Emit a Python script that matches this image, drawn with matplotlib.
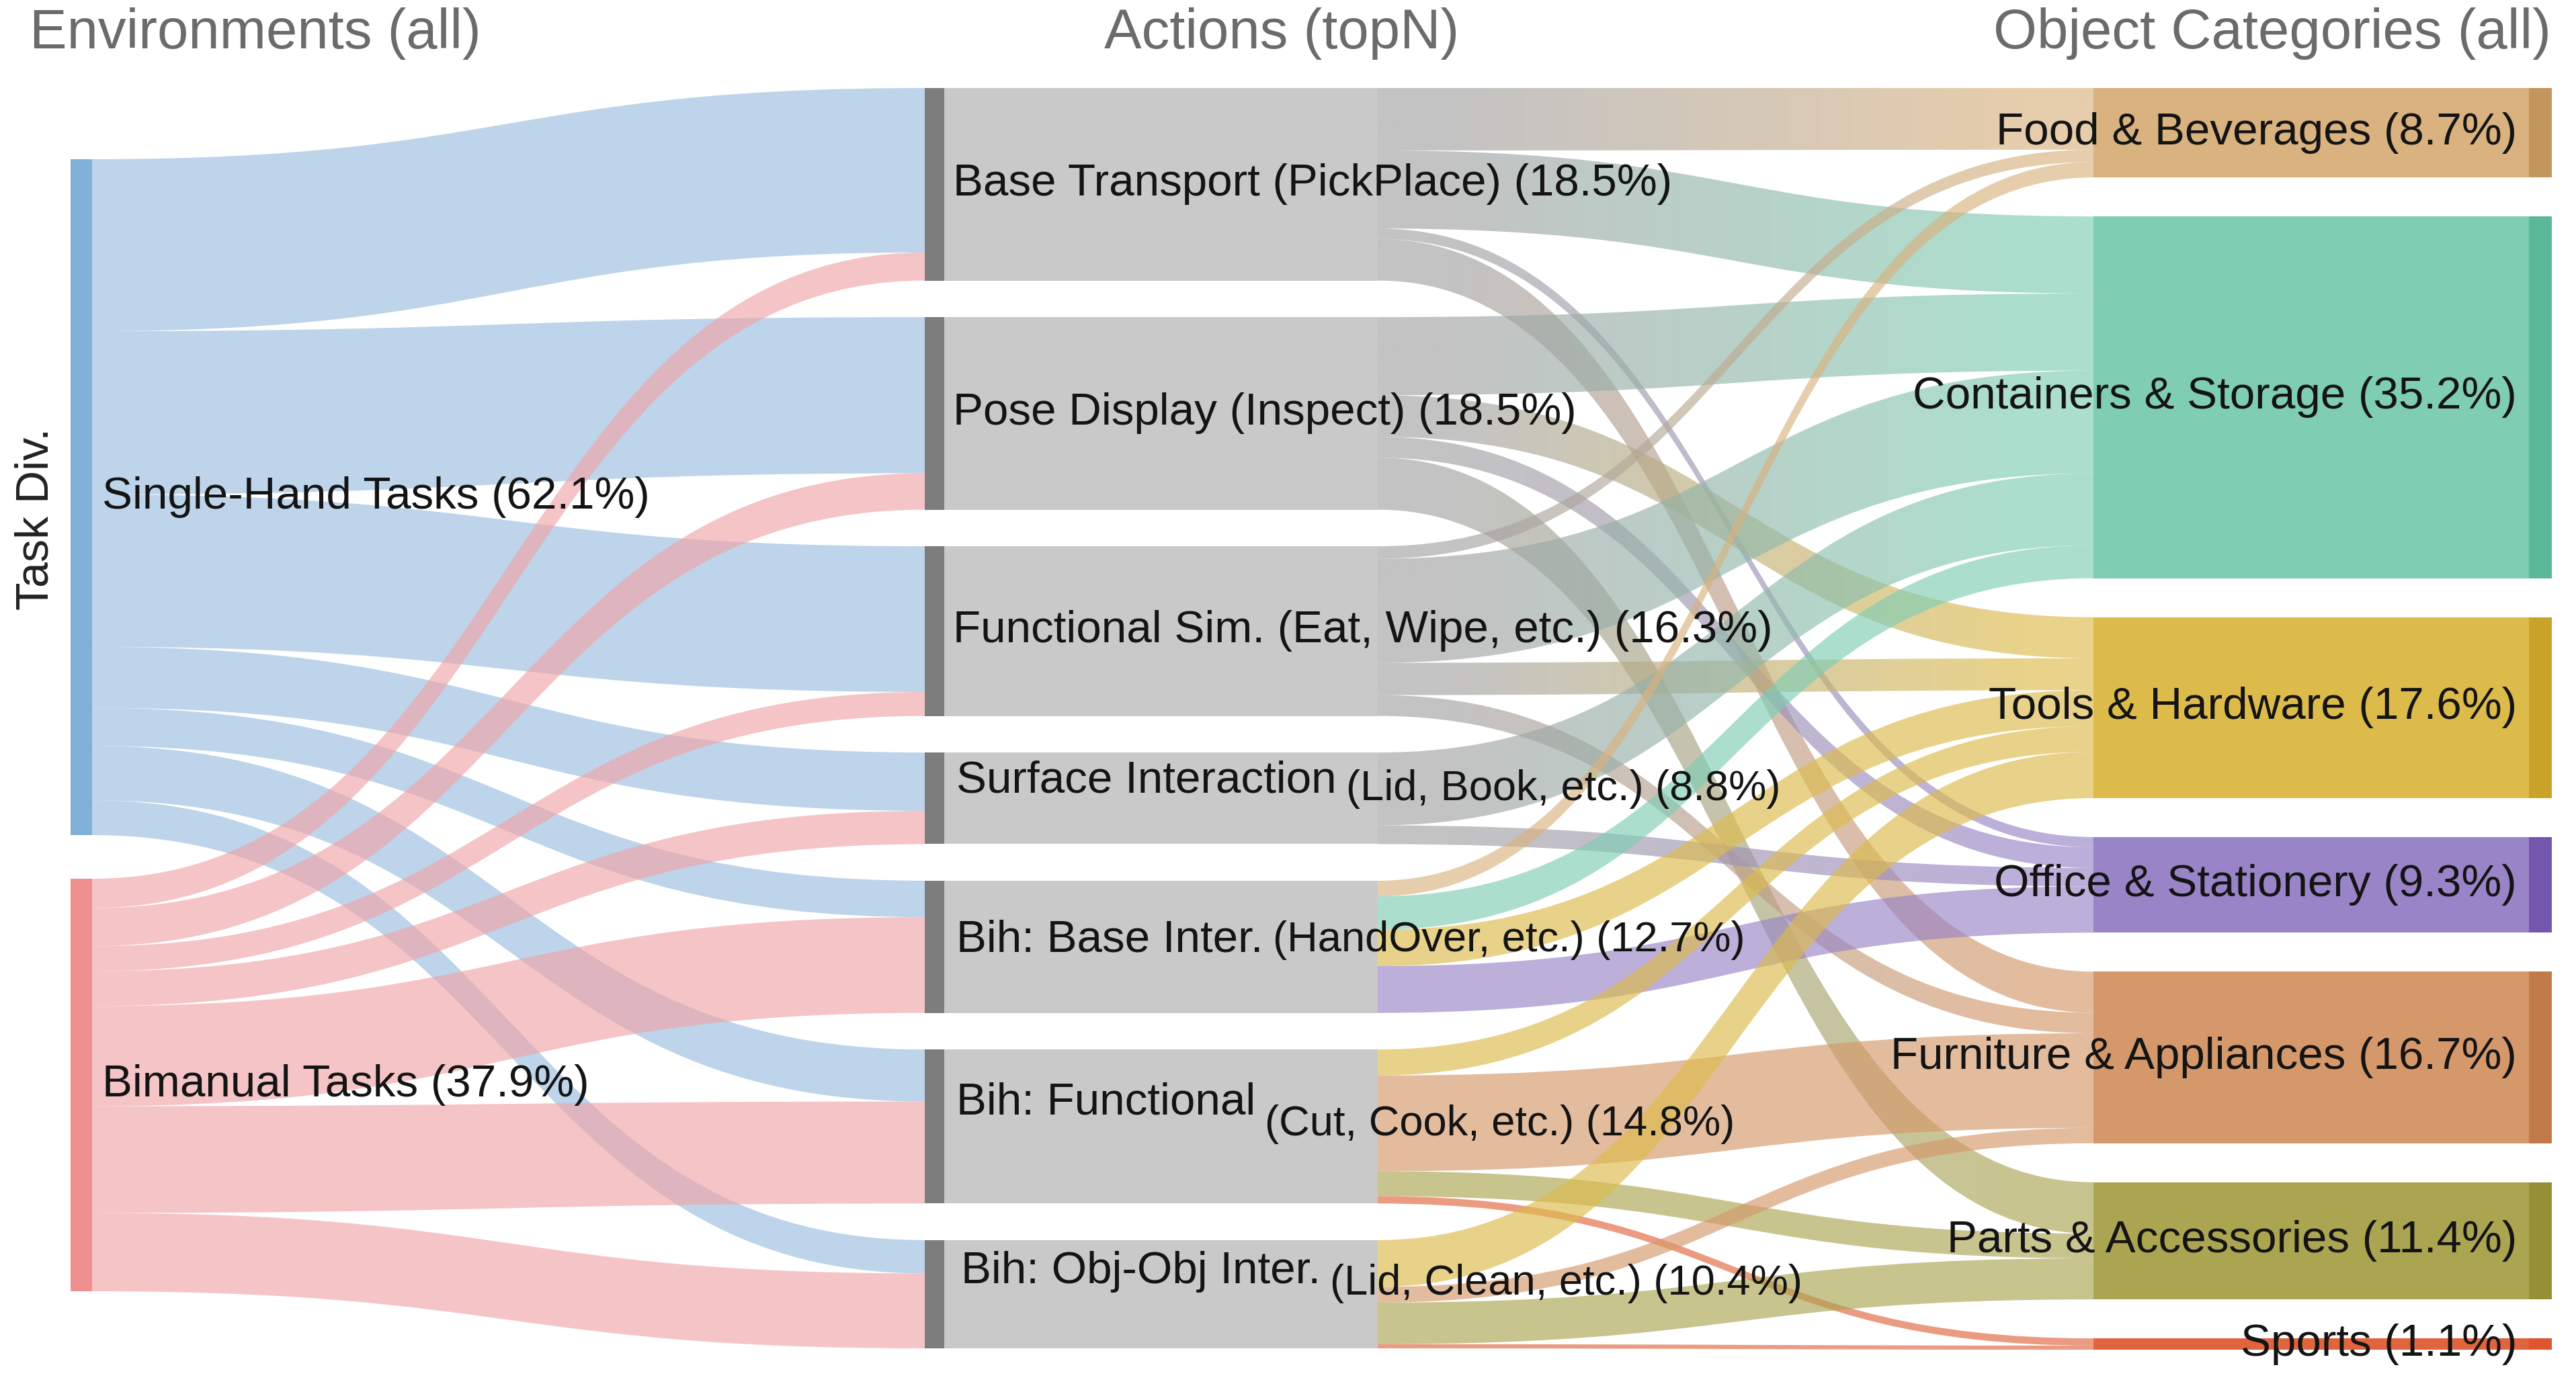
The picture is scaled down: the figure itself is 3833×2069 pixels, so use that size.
import numpy as np
import matplotlib
matplotlib.use("Agg")
import matplotlib.pyplot as plt
from matplotlib.path import Path
from matplotlib.patches import PathPatch, Rectangle
from matplotlib.colors import to_rgb

# ---------------- data ----------------
task_names = ["Single-Hand Tasks", "Bimanual Tasks"]
task_share = [62.1, 37.9]

action_main = ["Base Transport (PickPlace)", "Pose Display (Inspect)",
               "Functional Sim. (Eat, Wipe, etc.)", "Surface Interaction",
               "Bih: Base Inter.", "Bih: Functional", "Bih: Obj-Obj Inter."]
action_sub = ["", "", "", "(Lid, Book, etc.)", "(HandOver, etc.)",
              "(Cut, Cook, etc.)", "(Lid, Clean, etc.)"]
action_share = [18.5, 18.5, 16.3, 8.8, 12.7, 14.8, 10.4]

category_names = ["Food & Beverages", "Containers & Storage", "Tools & Hardware",
                  "Office & Stationery", "Furniture & Appliances",
                  "Parts & Accessories", "Sports"]
category_share = [8.7, 35.2, 17.6, 9.3, 16.7, 11.4, 1.1]

# task -> action (estimated)
single_to_action = [15.8, 15.0, 14.0, 5.6, 3.5, 5.0, 3.2]
bimanual_to_action = [2.7, 3.5, 2.3, 3.2, 9.2, 9.8, 7.2]

# action -> category (estimated); columns follow category_names
bt_to_cat = [6.0, 7.5, 0.0, 1.0, 4.0, 0.0, 0.0]
pd_to_cat = [0.0, 7.5, 4.0, 2.0, 0.0, 5.0, 0.0]
fs_to_cat = [1.2, 10.0, 3.1, 0.0, 2.0, 0.0, 0.0]
si_to_cat = [0.0, 7.0, 0.0, 1.8, 0.0, 0.0, 0.0]
bbi_to_cat = [1.5, 3.2, 3.5, 4.5, 0.0, 0.0, 0.0]
bf_to_cat = [0.0, 0.0, 2.5, 0.0, 9.2, 2.4, 0.7]
boo_to_cat = [0.0, 0.0, 4.5, 0.0, 1.5, 4.0, 0.4]

col_titles = ["Environments (all)", "Actions (topN)", "Object Categories (all)"]
side_title = "Task Div."

# ---------------- styles ----------------
W, H = 3833, 2069
task_bar_col = ["#7fb0d8", "#ee9090"]
task_flow_col = ["#9abddf", "#f0a5a8"]
action_bar_col = "#7d7d7d"
action_band_col = "#c9c9c9"
action_flow_gray = "#a3a3a3"
cat_band_col = ["#d9b27f", "#7fcdb3", "#ddbb4b", "#9884c6", "#d5986a", "#aba552", "#e0653e"]
cat_bar_col = ["#c4955c", "#5bb99a", "#c9a22a", "#7357ae", "#c27b48", "#958f36", "#de5530"]
flow_alpha = 0.65

label_font = ["Liberation Sans", "DejaVu Sans"]
title_font = ["Liberation Sans", "DejaVu Sans"]


def stack(values, top, scale, gap):
    out = []
    y = top
    for v in values:
        h = v * scale
        out.append([y, y + h])
        y += h + gap
    return out


task_scale, act_scale, cat_scale = 16.2, 15.49, 15.3
task_pos = stack(task_share, 237, task_scale, 65)
act_pos = stack(action_share, 131, act_scale, 54.5)
cat_pos = stack(category_share, 131, cat_scale, 58)

X_TASK0, X_TASK1 = 105, 137
X_ACT0, X_ACT1, X_ACT2 = 1376, 1405, 2050
X_CAT0, X_CAT1, X_CAT2 = 3115, 3763, 3797

fig = plt.figure(figsize=(W / 100, H / 100), dpi=100)
ax = fig.add_axes([0, 0, 1, 1])
ax.axis("off")


def flow_path(x0, y0a, y0b, x1, y1a, y1b):
    xm = (x0 + x1) / 2
    verts = [(x0, y0a), (xm, y0a), (xm, y1a), (x1, y1a), (x1, y1b),
             (xm, y1b), (xm, y0b), (x0, y0b), (x0, y0a)]
    codes = [Path.MOVETO, Path.CURVE4, Path.CURVE4, Path.CURVE4, Path.LINETO,
             Path.CURVE4, Path.CURVE4, Path.CURVE4, Path.CLOSEPOLY]
    return Path(verts, codes)


def draw_flow(x0, y0a, y0b, x1, y1a, y1b, c0, c1, z):
    p = flow_path(x0, y0a, y0b, x1, y1a, y1b)
    if c1 is None:
        ax.add_patch(PathPatch(p, facecolor=c0, edgecolor="none", alpha=flow_alpha,
                               zorder=z, lw=0))
        return
    patch = PathPatch(p, facecolor="none", edgecolor="none", lw=0)
    ax.add_patch(patch)
    n = 256
    t = np.linspace(0, 1, n)
    t = np.clip((t - 0.1) / 0.8, 0, 1)
    a, b = np.array(to_rgb(c0)), np.array(to_rgb(c1))
    img = np.zeros((1, n, 4))
    img[0, :, :3] = (1 - t)[:, None] * a + t[:, None] * b
    img[0, :, 3] = flow_alpha
    ymin = min(y0a, y1a) - 2
    ymax = max(y0b, y1b) + 2
    im = ax.imshow(img, extent=(x0, x1, ymax, ymin), aspect="auto",
                   interpolation="bilinear", zorder=z)
    im.set_clip_path(patch)


# ---- stage 1 flows ----
task_to_action = [single_to_action, bimanual_to_action]
act_in_off = [p[0] for p in act_pos]
for i, row in enumerate(task_to_action):
    y_src = task_pos[i][0]
    for j, v in enumerate(row):
        if v <= 0:
            continue
        h0 = v * task_scale
        h1 = v * act_scale
        draw_flow(X_TASK1, y_src, y_src + h0, X_ACT0, act_in_off[j], act_in_off[j] + h1,
                  task_flow_col[i], None, 2)
        y_src += h0
        act_in_off[j] += h1

# ---- stage 2 flows ----
action_to_cat = [bt_to_cat, pd_to_cat, fs_to_cat, si_to_cat, bbi_to_cat, bf_to_cat, boo_to_cat]
cat_in_off = [p[0] for p in cat_pos]
for i, row in enumerate(action_to_cat):
    y_src = act_pos[i][0]
    single_led = single_to_action[i] > bimanual_to_action[i]
    for j, v in enumerate(row):
        if v <= 0:
            continue
        h0 = v * act_scale
        h1 = v * cat_scale
        if single_led:
            draw_flow(X_ACT2, y_src, y_src + h0, X_CAT0, cat_in_off[j], cat_in_off[j] + h1,
                      action_flow_gray, cat_band_col[j], 3)
        else:
            draw_flow(X_ACT2, y_src, y_src + h0, X_CAT0, cat_in_off[j], cat_in_off[j] + h1,
                      cat_band_col[j], None, 3)
        y_src += h0
        cat_in_off[j] += h1

# ---- nodes ----
for i, (y0, y1) in enumerate(task_pos):
    ax.add_patch(Rectangle((X_TASK0, y0), X_TASK1 - X_TASK0, y1 - y0,
                           facecolor=task_bar_col[i], edgecolor="none", zorder=5))
for i, (y0, y1) in enumerate(act_pos):
    ax.add_patch(Rectangle((X_ACT1, y0), X_ACT2 - X_ACT1, y1 - y0,
                           facecolor=action_band_col, edgecolor="none", zorder=4))
    ax.add_patch(Rectangle((X_ACT0, y0), X_ACT1 - X_ACT0, y1 - y0,
                           facecolor=action_bar_col, edgecolor="none", zorder=5))
for i, (y0, y1) in enumerate(cat_pos):
    ax.add_patch(Rectangle((X_CAT0, y0), X_CAT1 - X_CAT0, y1 - y0,
                           facecolor=cat_band_col[i], edgecolor="none", zorder=4))
    ax.add_patch(Rectangle((X_CAT1, y0), X_CAT2 - X_CAT1, y1 - y0,
                           facecolor=cat_bar_col[i], edgecolor="none", zorder=5))

ax.set_xlim(0, W)
ax.set_ylim(H, 0)

# ---- labels ----
LS = 48.5
txt_col = "#141414"
for i, name in enumerate(task_names):
    yc = (task_pos[i][0] + task_pos[i][1]) / 2
    ax.text(152, yc, f"{name} ({task_share[i]}%)", fontsize=LS, family=label_font,
            color=txt_col, va="center", ha="left", zorder=10)

for i, (y0, y1) in enumerate(cat_pos):
    yc = (y0 + y1) / 2
    ax.text(3745, yc, f"{category_names[i]} ({category_share[i]}%)", fontsize=LS,
            family=label_font, color=txt_col, va="center", ha="right", zorder=10)

main_dy = [0, 0, 0, -26, -10, -35, -33]
sub_dy = [0, 0, 0, -14, -10, -3, -16]
label_x = [1418, 1418, 1418, 1423, 1423, 1423, 1430]
fig.canvas.draw()
renderer = fig.canvas.get_renderer()
inv = ax.transData.inverted()
for i, (y0, y1) in enumerate(act_pos):
    yc = (y0 + y1) / 2
    pct = f"({action_share[i]}%)"
    if action_sub[i] == "":
        ax.text(label_x[i], yc + main_dy[i], f"{action_main[i]} {pct}", fontsize=LS,
                family=label_font, color=txt_col, va="center", ha="left", zorder=10)
    else:
        t = ax.text(label_x[i], yc + main_dy[i], action_main[i], fontsize=LS,
                    family=label_font, color=txt_col, va="center", ha="left", zorder=10)
        bb = t.get_window_extent(renderer=renderer)
        xr = inv.transform((bb.x1, bb.y0))[0]
        ax.text(xr + 14, yc + sub_dy[i], f"{action_sub[i]} {pct}", fontsize=LS - 3,
                family=label_font, color=txt_col, va="center", ha="left", zorder=10)

# ---- titles ----
title_col = "#6b6b6b"
ax.text(44, 50, col_titles[0], fontsize=60, family=title_font, color=title_col,
        va="center", ha="left")
ax.text(1907, 50, col_titles[1], fontsize=60, family=title_font, color=title_col,
        va="center", ha="center")
ax.text(3796, 50, col_titles[2], fontsize=60, family=title_font, color=title_col,
        va="center", ha="right")
ax.text(54, 772, side_title, fontsize=49, family=title_font, color="#222222",
        va="center", ha="center", rotation=90)

fig.savefig("out.png", dpi=100, facecolor="white")
